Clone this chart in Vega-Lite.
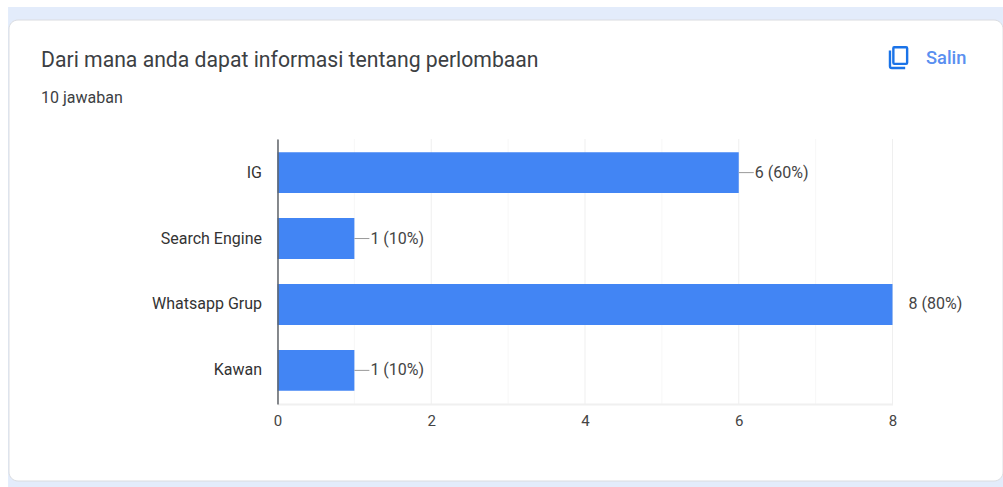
{
 "$schema":"https://vega.github.io/schema/vega-lite/v6.json",
 "width":615,"height":265,
 "autosize":{"type":"none"},
 "padding":{"left":277.5,"top":139,"right":110.5,"bottom":83},
 "background":"#ffffff",
 "config":{"view":{"stroke":null},"font":"Roboto"},
 "layer":[
  {"data":{"values":[{"part":"card"}]},
   "layer":[
    {"mark":{"type":"rect","fill":"#e3ecfb"},
     "encoding":{"x":{"datum":-3.505,"type":"quantitative","scale":{"domain":[0,8],"nice":false},"axis":null},"x2":{"datum":9.6},
      "y":{"datum":1.498,"type":"quantitative","scale":{"domain":[0,1],"nice":false},"axis":null},"y2":{"datum":-0.313}}},
    {"mark":{"type":"rect","fill":"#ffffff","stroke":"#dadce0","strokeWidth":1,"cornerRadius":9},
     "encoding":{"x":{"datum":-3.493,"type":"quantitative","scale":{"domain":[0,8],"nice":false},"axis":null},"x2":{"datum":9.438},
      "y":{"datum":1.449,"type":"quantitative","scale":{"domain":[0,1],"nice":false},"axis":null},"y2":{"datum":-0.2906}}},
    {"mark":{"type":"text","text":"Dari mana anda dapat informasi tentang perlombaan","align":"left","baseline":"middle","fontSize":21.2,"font":"Roboto","color":"#3c4043"},
     "encoding":{"x":{"datum":-3.076,"type":"quantitative","scale":{"domain":[0,8],"nice":false},"axis":null},
      "y":{"datum":1.295,"type":"quantitative","scale":{"domain":[0,1],"nice":false},"axis":null}}},
    {"mark":{"type":"text","text":"10 jawaban","align":"left","baseline":"middle","fontSize":16,"font":"Roboto","color":"#3c4043"},
     "encoding":{"x":{"datum":-3.076,"type":"quantitative","scale":{"domain":[0,8],"nice":false},"axis":null},
      "y":{"datum":1.155,"type":"quantitative","scale":{"domain":[0,1],"nice":false},"axis":null}}},
    {"mark":{"type":"text","text":"Salin","align":"left","baseline":"middle","fontSize":18.3,"font":"Roboto","fontWeight":500,"color":"#5a8ff0"},
     "encoding":{"x":{"datum":8.436,"type":"quantitative","scale":{"domain":[0,8],"nice":false},"axis":null},
      "y":{"datum":1.302,"type":"quantitative","scale":{"domain":[0,1],"nice":false},"axis":null}}},
    {"mark":{"type":"point","filled":false,"stroke":"#1a73e8","strokeWidth":2.4,"opacity":1,"size":676,
      "shape":"M -0.62 -0.62 L -0.62 0.6 Q -0.62 0.74 -0.48 0.74 L 0.55 0.74 M -0.3 -0.86 Q -0.36 -0.86 -0.36 -0.78 L -0.36 0.34 Q -0.36 0.42 -0.28 0.42 L 0.62 0.42 Q 0.7 0.42 0.7 0.34 L 0.7 -0.78 Q 0.7 -0.86 0.62 -0.86 Z"},
     "encoding":{"x":{"datum":8.072,"type":"quantitative","scale":{"domain":[0,8],"nice":false},"axis":null},
      "y":{"datum":1.304,"type":"quantitative","scale":{"domain":[0,1],"nice":false},"axis":null}}}
   ]},
  {"data":{"values":[
     {"sumber":"IG","jumlah":6,"label":"6 (60%)"},
     {"sumber":"Search Engine","jumlah":1,"label":"1 (10%)"},
     {"sumber":"Whatsapp Grup","jumlah":8,"label":"8 (80%)"},
     {"sumber":"Kawan","jumlah":1,"label":"1 (10%)"}]},
   "encoding":{
     "y":{"field":"sumber","type":"nominal","sort":["IG","Search Engine","Whatsapp Grup","Kawan"],"title":null,
       "scale":{"paddingInner":0.38,"paddingOuter":0.2},
       "axis":{"zindex":1,"ticks":false,"labelPadding":16,"labelFontSize":16,"labelColor":"#333333","labelFont":"Roboto","domainColor":"#5f6368","domainWidth":1.5,"grid":false}}
   },
   "layer":[
    {"data":{"values":[{"t":0},{"t":1},{"t":2},{"t":3},{"t":4},{"t":5},{"t":6},{"t":7},{"t":8}]},
     "mark":{"type":"rule","strokeWidth":1},
     "encoding":{"y":null,"x":{"field":"t","type":"quantitative","scale":{"domain":[0,8],"nice":false},"axis":null},
       "stroke":{"condition":{"test":"datum.t % 2 == 1","value":"#f7f7f7"},"value":"#efefef"}}},
    {"mark":{"type":"bar","fill":"#4285f4"},
     "encoding":{"x":{"field":"jumlah","type":"quantitative","title":null,"scale":{"domain":[0,8],"nice":false},
       "axis":{"zindex":1,"values":[0,2,4,6,8],"ticks":false,"grid":false,"labelFlush":false,"labelPadding":9,"labelFontSize":15,"labelColor":"#444444","labelFont":"Roboto","domainColor":"#f0f0f0","domainWidth":2,"format":"d"}}}},
    {"transform":[{"filter":"datum.jumlah < 8"}],
     "mark":{"type":"rule","stroke":"#999999","strokeWidth":1,"x2Offset":15},
     "encoding":{"x":{"field":"jumlah","type":"quantitative"},"x2":{"field":"jumlah"}}},
    {"mark":{"type":"text","align":"left","baseline":"middle","dx":16,"fontSize":16,"font":"Roboto","color":"#444444"},
     "encoding":{"x":{"field":"jumlah","type":"quantitative"},"text":{"field":"label"}}}
   ],
   "resolve":{"axis":{"x":"independent"}}}
 ],
 "resolve":{"scale":{"y":"independent"},"axis":{"x":"independent"}}
}
